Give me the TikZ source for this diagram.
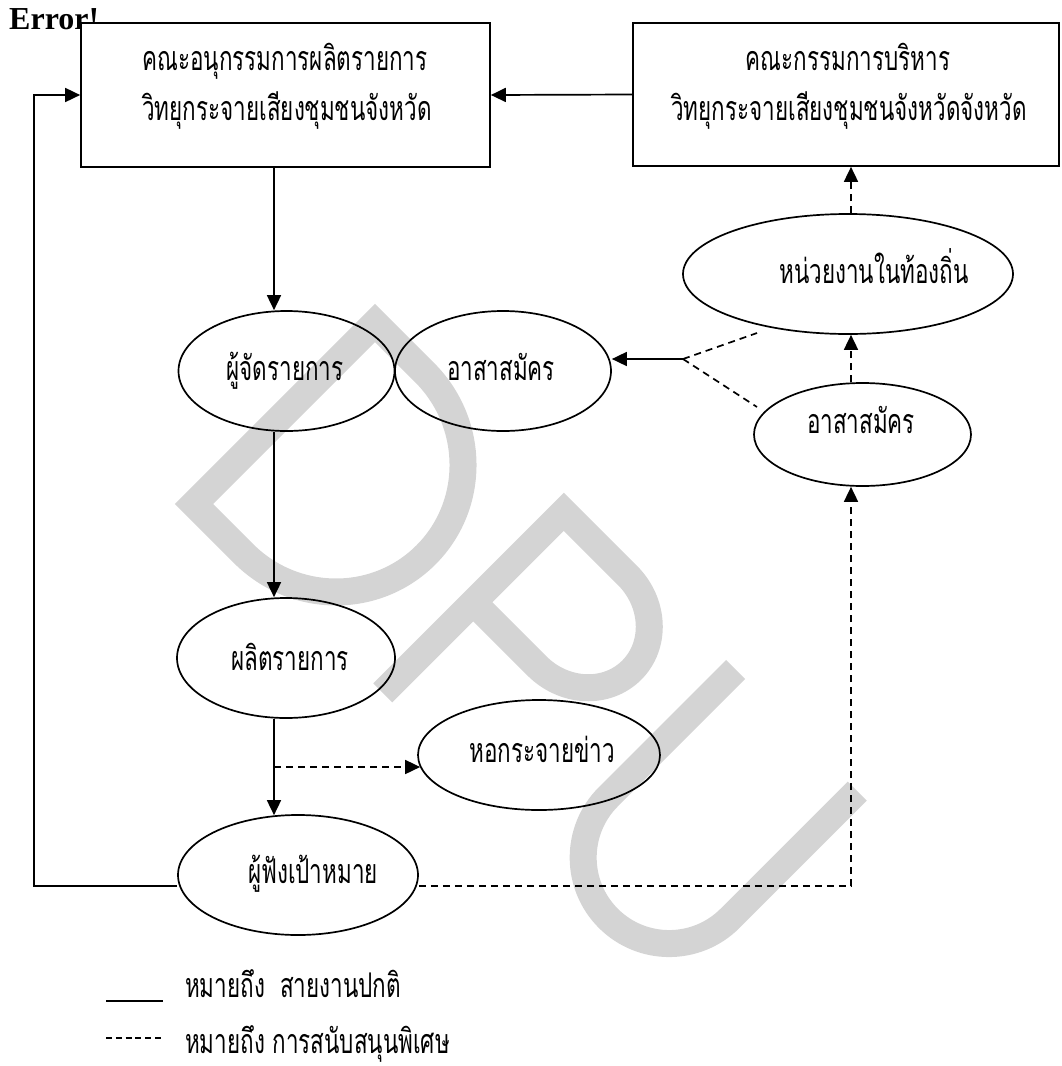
\documentclass[tikz,border=0pt]{standalone}
\usepackage{fontspec}
\setmainfont{Liberation Serif}
\newfontfamily\thai[Script=Thai,FakeStretch=0.66]{Loma}
\usetikzlibrary{arrows.meta,shapes.geometric,calc}
\definecolor{wm}{RGB}{212,212,212}
\begin{document}
\begin{tikzpicture}[x=1pt,y=-1pt,
  lw/.style={line width=1.7pt},
  arr/.style={line width=1.7pt,-{Triangle[length=15pt,width=14pt]}},
  dsh/.style={dash pattern=on 7pt off 5pt},
  boxn/.style={draw,line width=1.7pt,fill=white,inner sep=0pt},
  ell/.style={draw,ellipse,line width=1.7pt,inner sep=0pt},
  th/.style={font=\thai\fontsize{34}{34}\selectfont,inner sep=0pt,anchor=base},
  mark stroke/.style={draw=wm,line width=27pt,line join=miter,line cap=butt}]
\useasboundingbox (0,0) rectangle (1061,1066);
% watermark
\begin{scope}[shift={(194,504)},x={(0.7071pt,-0.7071pt)},y={(0.7071pt,0.7071pt)}]
  \path[mark stroke] (0,0) -- (0,256) -- (70,256) arc[start angle=90,end angle=-90,x radius=130,y radius=128] -- cycle;
  \path[mark stroke] (267,0) -- (267,256) -- (357,256) arc[start angle=90,end angle=-90,x radius=70,y radius=64] -- (267,128);
  \path[mark stroke] (500,266) -- (500,86) arc[start angle=180,end angle=360,radius=86] -- (672,266);
\end{scope}
\node[font=\bfseries\fontsize{32}{32}\selectfont,anchor=base west,inner sep=0pt] (err) at (9,29) {Error!};
\node[boxn,minimum width=409pt,minimum height=144pt] (b1) at (285.5,95) {};
\node[boxn,minimum width=426pt,minimum height=143pt] (b2) at (846,94.5) {};
\node[th] (b1a) at (285,70) {คณะอนุกรรมการผลิตรายการ};
\node[th] (b1b) at (287,120) {วิทยุกระจายเสียงชุมชนจังหวัด};
\node[th] (b2a) at (848,70) {คณะกรรมการบริหาร};
\node[th] (b2b) at (849,120) {วิทยุกระจายเสียงชุมชนจังหวัดจังหวัด};
\node[ell,minimum width=216pt,minimum height=120pt] (e1) at (286.5,371) {};
\node[th] (e1t) at (285,380) {ผู้จัดรายการ};
\node[ell,minimum width=216pt,minimum height=120pt] (e2) at (503,371) {};
\node[th] (e2t) at (501,380) {อาสาสมัคร};
\node[ell,minimum width=330pt,minimum height=120pt] (e3) at (848,274) {};
\node[th] (e3t) at (874,283) {หน่วยงานในท้องถิ่น};
\node[ell,minimum width=217pt,minimum height=103pt] (e4) at (862.5,434.5) {};
\node[th] (e4t) at (861,433) {อาสาสมัคร};
\node[ell,minimum width=218pt,minimum height=120pt] (e5) at (286,658) {};
\node[th] (e5t) at (290,670) {ผลิตรายการ};
\node[ell,minimum width=242pt,minimum height=110pt] (e7) at (539,755) {};
\node[th] (e7t) at (542,762) {หอกระจายข่าว};
\node[ell,minimum width=240pt,minimum height=120pt] (e6) at (298,875) {};
\node[th] (e6t) at (313,883) {ผู้ฟังเป้าหมาย};
\coordinate (c1) at (274,0);
\coordinate (c2) at (851,0);
\coordinate (fb) at (34,0);
\coordinate (j1) at (683,359);
\coordinate (j2) at (274,767);
\coordinate (d1) at (757,333);
\coordinate (d2) at (757,407);
\draw[arr] (b2.west) -- (b1.east);
\draw[arr] (b1.south -| c1) -- (e1.north -| c1);
\draw[arr] (e1.south -| c1) -- (e5.north -| c1);
\draw[arr] (e5.south -| c1) -- ([yshift=-1pt]e6.north -| c1);
\draw[arr,dsh,shorten >=-3pt] (j2) -- (j2 -| e7.west);
\draw[arr] ([yshift=-11pt]e6.west) -| (fb |- b1.west) -- (b1.west);
\draw[arr,dsh] ([yshift=-11pt]e6.east) -| (e4.south -| c2);
\draw[arr,dsh] (e4.north -| c2) -- (e3.south -| c2);
\draw[arr,dsh] (e3.north -| c2) -- (b2.south -| c2);
\draw[arr] (j1) -- (j1 -| e2.east);
\draw[lw,dsh] (j1) -- (d1);
\draw[lw,dsh] (j1) -- (d2);
\coordinate (l1a) at (106,1001);
\coordinate (l1b) at (163,1001);
\coordinate (l2a) at (106,1038);
\coordinate (l2b) at (161,1038);
\draw[lw] (l1a) -- (l1b);
\draw[lw,dash pattern=on 6pt off 3.8pt] (l2a) -- (l2b);
\node[th,anchor=base west] (lg1) at (185,997) {หมายถึง\ \ สายงานปกติ};
\node[th,anchor=base west] (lg2) at (185,1053) {หมายถึง การสนับสนุนพิเศษ};
\end{tikzpicture}
\end{document}
